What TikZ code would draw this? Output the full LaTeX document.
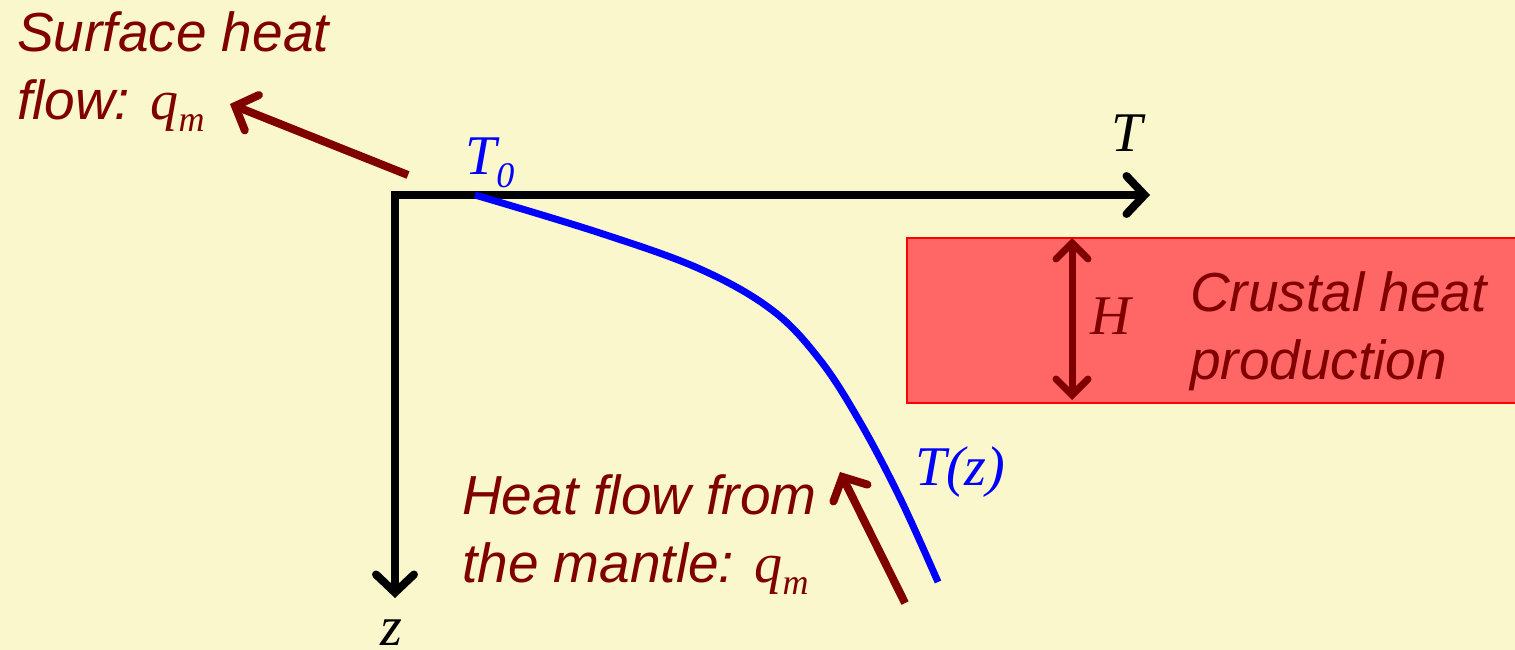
\documentclass[tikz,border=0pt]{standalone}
\usepackage{fontspec}
\newfontfamily\lsans{Liberation Sans}
\newfontfamily\lserif{Liberation Serif}
\usetikzlibrary{arrows.meta}
\definecolor{bgcol}{RGB}{250,247,204}
\definecolor{dred}{RGB}{128,0,0}
\definecolor{boxfill}{RGB}{255,102,102}
\definecolor{pblue}{RGB}{0,0,255}
\newcommand{\sfbig}{\lsans\itshape\fontsize{55}{68}\selectfont}
\newcommand{\mathbig}{\lserif\itshape\fontsize{56}{60}\selectfont}
\newcommand{\subsc}[1]{\raisebox{-0.22em}{\fontsize{36}{40}\selectfont #1}}
\begin{document}
\begin{tikzpicture}[x=1pt,y=-1pt,
  axis/.style={line width=8pt, black, -{Straight Barb[length=18pt,width=38pt,line cap=round]}},
  redarrow/.style={line width=8pt, dred, -{Straight Barb[length=18pt,width=38pt,line cap=round]}},
  txt/.style={inner sep=0pt, text=dred, font=\sfbig, align=left},
  mlabel/.style={inner sep=0pt, font=\mathbig}]
\useasboundingbox[fill=bgcol] (0,0) rectangle (1515,650);
% crustal box
\node[draw=red, line width=1.5pt, fill=boxfill, minimum width=609pt, minimum height=165pt, inner sep=0pt, anchor=north west] (crust) at (906,237) {};
% axes
\coordinate (o) at (395,195);
\coordinate (tend) at (1150,195);
\coordinate (zend) at (395,598);
\draw[axis] (o) -- (tend);
\draw[axis] (o) -- (zend);
\fill[black] (391,191) rectangle (399,199);
\node[mlabel, anchor=base] (tlab) at (1127,152) {T};
\node[mlabel, anchor=base] (zlab) at (391,645) {z};
% temperature profile
\draw[pblue, line width=7pt] plot[smooth, tension=0.6] coordinates {(475,195) (600,233) (700,269) (772,310) (820,360) (860,422) (900,498) (938,582)};
\node[mlabel, text=pblue, anchor=base west] (t0) at (465,175) {T\subsc{0}};
\node[mlabel, text=pblue, anchor=base west] (tz) at (915,485) {T(z)};
% H arrow
\coordinate (htop) at (1072,238);
\coordinate (hbot) at (1072,400);
\draw[line width=7pt, dred, {Straight Barb[length=16pt,width=32pt,line cap=round]}-{Straight Barb[length=16pt,width=32pt,line cap=round]}] (htop) -- (hbot);
\node[mlabel, text=dred, anchor=base west] (hlab) at (1090,334) {H};
\node[txt, anchor=north west] (crusttxt) at (1190,271) {Crustal heat\\production};
% surface heat flow
\coordinate (sfstart) at (408,175);
\coordinate (sfend) at (230,104);
\draw[redarrow] (sfstart) -- (sfend);
\node[txt, anchor=north west] (surftxt) at (17,11) {Surface heat\\flow: {\mathbig q\subsc{m}}};
% mantle heat flow
\coordinate (mfstart) at (905,603);
\coordinate (mfend) at (840,472);
\draw[redarrow] (mfstart) -- (mfend);
\node[txt, anchor=north west] (manttxt) at (462,474) {Heat flow from\\the mantle: {\mathbig q\subsc{m}}};
\end{tikzpicture}
\end{document}
